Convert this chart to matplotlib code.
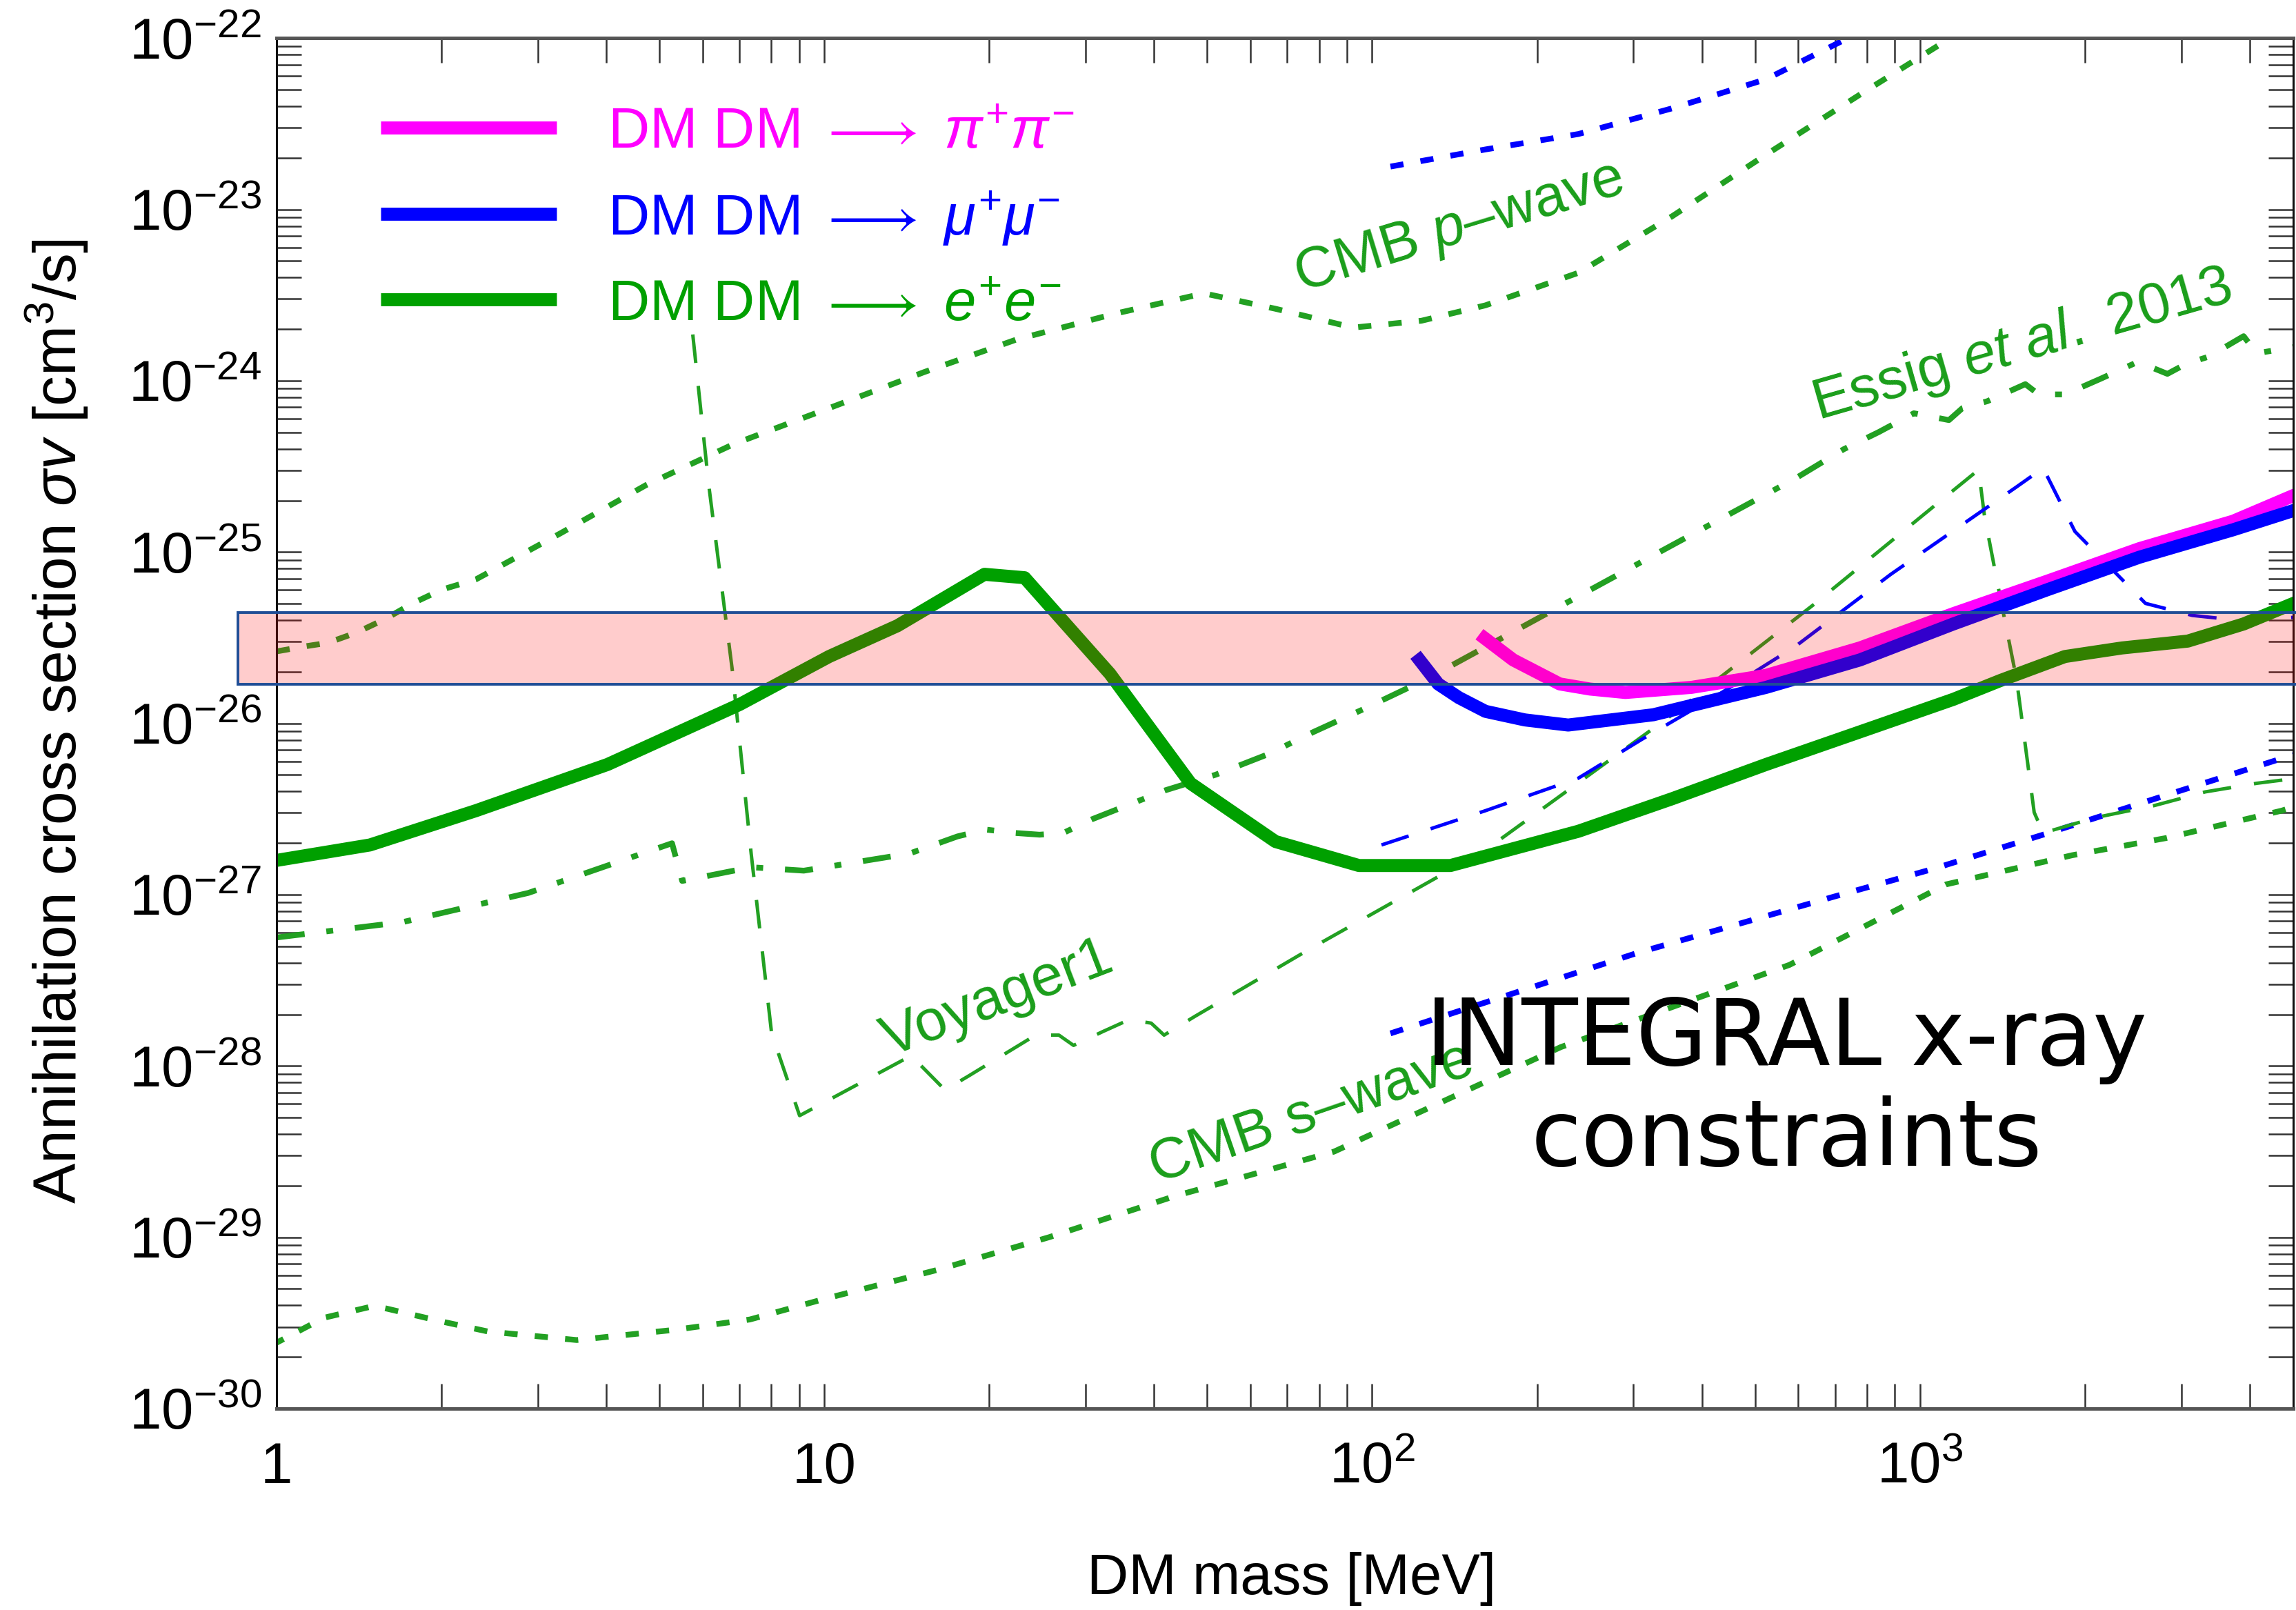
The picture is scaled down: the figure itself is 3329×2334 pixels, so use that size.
import numpy as np
import matplotlib.pyplot as plt
from matplotlib.patches import Rectangle
from matplotlib.ticker import LogLocator, NullFormatter
import matplotlib.transforms as mtransforms

plt.rcParams['font.family'] = ['Liberation Sans', 'DejaVu Sans']
plt.rcParams['mathtext.fontset'] = 'custom'
plt.rcParams['mathtext.rm'] = 'Liberation Sans'
plt.rcParams['mathtext.it'] = 'Liberation Sans:italic'
plt.rcParams['mathtext.bf'] = 'Liberation Sans:bold'
plt.rcParams['mathtext.fallback'] = 'stix'

# DM mass [MeV] and log10(sigma v [cm^3/s])

# DM DM -> e+ e- (thick green)
ee_mass = [1.0, 1.48, 2.31, 4.02, 7.0, 10.2, 13.6, 19.6, 23.2, 33.2, 46.6, 66.6,
           94.6, 139, 238, 353, 524, 777, 1151, 1403, 1840, 2339, 3084, 3900, 4893]
ee_logsv = [-26.80, -26.71, -26.51, -26.24, -25.89, -25.61, -25.43, -25.13, -25.15,
            -25.71, -26.35, -26.69, -26.83, -26.83, -26.63, -26.44, -26.24, -26.05,
            -25.86, -25.75, -25.61, -25.56, -25.52, -25.42, -25.29]

# DM DM -> mu+ mu- (thick blue)
mumu_mass = [120, 132, 144, 161, 190, 228, 326, 524, 777, 1151, 1709, 2518, 3733, 4893]
mumu_logsv = [-25.60, -25.77, -25.85, -25.93, -25.98, -26.01, -25.95, -25.79, -25.63,
              -25.42, -25.22, -25.03, -24.87, -24.75]

# DM DM -> pi+ pi- (thick magenta)
pipi_mass = [157, 181, 220, 250, 290, 383, 524, 777, 1151, 1709, 2518, 3733, 4893]
pipi_logsv = [-25.48, -25.63, -25.77, -25.80, -25.82, -25.79, -25.72, -25.56, -25.36,
              -25.17, -24.98, -24.82, -24.66]

# CMB p-wave (green dotted, top)
pwave_mass = [1.0, 1.13, 1.24, 1.40, 1.58, 1.77, 2.0, 2.31, 3.30, 4.72, 6.83, 10.2,
              15.2, 22.4, 33.8, 49.3, 66.6, 92.3, 123, 161, 238, 353, 524, 777, 1110, 1241]
pwave_logsv = [-25.58, -25.55, -25.53, -25.47, -25.39, -25.30, -25.22, -25.16, -24.89,
               -24.61, -24.37, -24.16, -23.95, -23.76, -23.61, -23.49, -23.58, -23.69,
               -23.65, -23.56, -23.37, -23.04, -22.68, -22.33, -22.02, -21.92]

# muon channel, p-wave (blue dotted, top)
pwave_mu_mass = [108, 161, 238, 353, 524, 718, 759]
pwave_mu_logsv = [-22.75, -22.65, -22.56, -22.41, -22.24, -22.02, -21.96]

# Essig et al. 2013 (green dash-dot)
essig_mass = [1.0, 1.70, 2.88, 5.27, 5.50, 7.35, 9.17, 14.3, 17.5, 19.7, 22.3, 24.7,
              27.3, 30.8, 42.0, 51.8, 64.6, 78.2, 97.5, 126, 353, 593, 726, 841, 975,
              1130, 1196, 1327, 1558, 1648, 1840, 2133, 2500, 2831, 3069, 3365, 3900,
              4121, 4893]
essig_logsv = [-27.25, -27.16, -26.99, -26.70, -26.92, -26.84, -26.86, -26.76, -26.66,
               -26.62, -26.64, -26.65, -26.64, -26.56, -26.39, -26.30, -26.18, -26.05,
               -25.91, -25.74, -24.96, -24.57, -24.40, -24.30, -24.19, -24.23, -24.16,
               -24.12, -24.02, -24.08, -24.08, -23.99, -23.89, -23.96, -23.90, -23.86,
               -23.74, -23.84, -23.80]

# Voyager1 (green thin dashed)
voy_mass = [5.75, 6.15, 6.79, 7.35, 8.01, 9.01, 14.4, 16.6, 18.3, 24.3, 26.8, 28.5,
            32.2, 36.0, 39.5, 41.7, 47.5, 76.7, 161, 353, 638, 1151, 1280, 1312, 1403,
            1501, 1617, 1679, 2094, 2679, 3321, 4121, 4893]
voy_logsv = [-23.73, -24.61, -25.69, -26.76, -27.81, -28.29, -27.94, -28.14, -28.06,
             -27.82, -27.82, -27.88, -27.80, -27.73, -27.75, -27.82, -27.71, -27.32,
             -26.74, -25.95, -25.31, -24.64, -24.52, -24.79, -25.27, -25.74, -26.52,
             -26.64, -26.55, -26.48, -26.40, -26.35, -26.32]

# Voyager1, muon channel (blue thin dashed)
voy_mu_mass = [104, 161, 238, 312, 435, 593, 885, 1501, 1679, 1919, 2582, 3143, 3852, 4893]
voy_mu_logsv = [-26.71, -26.51, -26.32, -26.09, -25.82, -25.55, -25.13, -24.62, -24.51,
                -24.88, -25.30, -25.37, -25.40, -25.38]

# CMB s-wave, muon channel (blue dotted, bottom)
swave_mu_mass = [108, 305, 700, 1057, 1718, 2812, 4632, 4893]
swave_mu_logsv = [-27.81, -27.34, -27.01, -26.85, -26.64, -26.42, -26.20, -26.18]

# CMB s-wave (green dotted, bottom)
swave_mass = [0.98, 1.22, 1.51, 1.99, 2.43, 3.53, 5.34, 7.31, 10.0, 16.1, 25.7, 43.6,
              85.2, 221, 578, 1117, 1897, 2812, 4575, 4893]
swave_logsv = [-29.63, -29.47, -29.40, -29.49, -29.55, -29.60, -29.54, -29.48, -29.36,
               -29.19, -29.00, -28.76, -28.50, -27.89, -27.41, -26.94, -26.77, -26.67,
               -26.51, -26.48]

# thermal relic band
relic_low, relic_high = 1.69e-26, 4.43e-26

legend_labels = [r'DM DM $\longrightarrow$ $\pi^{+}\pi^{-}$',
                 r'DM DM $\longrightarrow$ $\mu^{+}\mu^{-}$',
                 r'DM DM $\longrightarrow$ $e^{+}e^{-}$']

green = '#00a000'
lgreen = '#22a022'
blue = '#0000ff'
magenta = '#ff00ff'

fig = plt.figure(figsize=(16.645, 11.67), dpi=200)
ax = fig.add_axes([0.1205, 0.12511, 0.8782, 0.85123])

def sv(a):
    return 10.0 ** np.asarray(a)

dotted = (0, (2.3, 3.0))
thin_dash = (0, (8.3, 6.7))
dash_dot = (0, (4.9, 3.8, 1.2, 3.8))

ax.plot(pwave_mass, sv(pwave_logsv), color=lgreen, lw=3, ls=dotted)
ax.plot(pwave_mu_mass, sv(pwave_mu_logsv), color=blue, lw=3, ls=dotted)
ax.plot(swave_mass, sv(swave_logsv), color=lgreen, lw=3, ls=dotted)
ax.plot(swave_mu_mass, sv(swave_mu_logsv), color=blue, lw=3, ls=dotted)
ax.plot(essig_mass, sv(essig_logsv), color=lgreen, lw=3, ls=dash_dot)
ax.plot(voy_mass, sv(voy_logsv), color=lgreen, lw=1.8, ls=thin_dash)
ax.plot(voy_mu_mass, sv(voy_mu_logsv), color=blue, lw=1.8, ls=thin_dash)

thick = dict(lw=6.8, solid_capstyle='butt', solid_joinstyle='round')
ax.plot(ee_mass, sv(ee_logsv), color=green, **thick)
ax.plot(pipi_mass, sv(pipi_logsv), color=magenta, **thick)
ax.plot(mumu_mass, sv(mumu_logsv), color=blue, **thick)

ax.set_xscale('log')
ax.set_yscale('log')
ax.set_xlim(1, 4800)
ax.set_ylim(1e-30, 1e-22)

ax.set_xticks([1, 10, 100, 1000], labels=['1', '10', r'$10^{2}$', r'$10^{3}$'])
ax.xaxis.set_minor_locator(LogLocator(base=10, subs=np.arange(2, 10), numticks=50))
ax.xaxis.set_minor_formatter(NullFormatter())
yexp = list(range(-30, -21))
ax.set_yticks([10.0 ** e for e in yexp], labels=[r'$10^{%d}$' % e for e in yexp])
ax.yaxis.set_minor_locator(LogLocator(base=10, subs=np.arange(2, 10), numticks=50))
ax.yaxis.set_minor_formatter(NullFormatter())

ax.tick_params(which='both', direction='in', top=True, right=True, length=13,
               width=0.9, color='#333333', labelsize=30)
ax.tick_params(axis='x', pad=39)
ax.tick_params(axis='y', pad=8)
for lab in ax.get_xticklabels():
    lab.set_verticalalignment('baseline')

for side in ['top', 'bottom']:
    ax.spines[side].set_linewidth(1.8)
    ax.spines[side].set_color('#555555')
for side in ['left', 'right']:
    ax.spines[side].set_linewidth(1.1)
    ax.spines[side].set_color('#111111')

# relic band, drawn on top and running a bit past the left spine
trans = mtransforms.blended_transform_factory(ax.transAxes, ax.transData)
band = Rectangle((-0.0192, relic_low), 1.1, relic_high - relic_low, transform=trans,
                 facecolor=(1, 0, 0, 0.2), edgecolor='#1f4e96', lw=1.4,
                 clip_on=False, zorder=10)
ax.add_patch(band)

# legend
rows = [0.9348, 0.8717, 0.8092]
for y, col, lab in zip(rows, [magenta, blue, green], legend_labels):
    ax.plot([0.0516, 0.1387], [y, y], transform=ax.transAxes, color=col, lw=6.8,
            solid_capstyle='butt')
    ax.text(0.1641, y - 0.0153, lab, transform=ax.transAxes, color=col, fontsize=30,
            va='baseline', ha='left')

# curve labels
tg = '#1a9e1a'
ax.text(144, 7.76e-24, r'CMB $p$–wave', color=tg, fontsize=30, rotation=17,
        ha='center', va='center', rotation_mode='anchor')
ax.text(1538, 1.61e-24, r'Essig $et\ al.$ 2013', color=tg, fontsize=30, rotation=16,
        ha='center', va='center', rotation_mode='anchor')
ax.text(20.7, 2.45e-28, 'Voyager1', color=tg, fontsize=30, rotation=21,
        ha='center', va='center', rotation_mode='anchor')
ax.text(77.6, 5.28e-29, 'CMB s–wave', color=tg, fontsize=30, rotation=19,
        ha='center', va='center', rotation_mode='anchor')

fig.text(0.778, 0.323, 'INTEGRAL x-ray\nconstraints', fontsize=48, family='DejaVu Sans',
         ha='center', va='center', linespacing=1.15, color='black')

fig.text(0.5625, 0.0191, 'DM mass [MeV]', fontsize=30, ha='center', va='center')
fig.text(0.0249, 0.5519, r'Annihilation cross section $\sigma v$ [cm$^3$/s]',
         fontsize=31.5, rotation=90, ha='center', va='center')

fig.savefig('out.png', dpi=200)
